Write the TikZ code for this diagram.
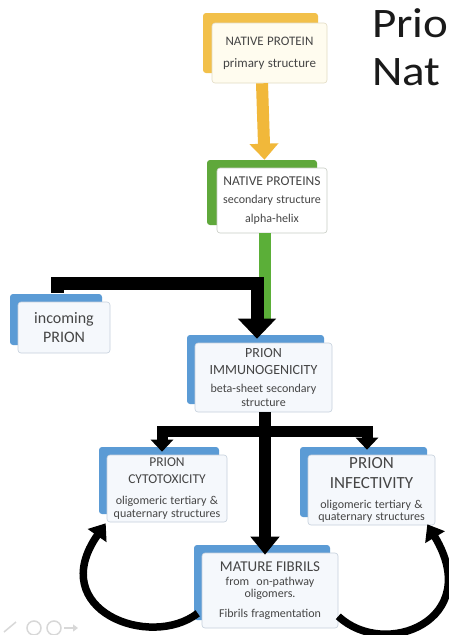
\documentclass[tikz,border=0pt]{standalone}
\usepackage{fontspec}
\usepackage{graphicx}
\setmainfont{Carlito}
\usetikzlibrary{arrows.meta,shadows}
\definecolor{yback}{HTML}{F2C04A}
\definecolor{ycream}{HTML}{FFFCEF}
\definecolor{ybord}{HTML}{E2DCC4}
\definecolor{gback}{HTML}{5FA83B}
\definecolor{gbord}{HTML}{C8CCC4}
\definecolor{bback}{HTML}{5B9BD5}
\definecolor{bfront}{HTML}{F5F8FC}
\definecolor{bbord}{HTML}{C5D0DC}
\definecolor{yarr}{HTML}{F1B83A}
\definecolor{gline}{HTML}{5BAF38}
\definecolor{txtc}{HTML}{454545}
\definecolor{ttl}{HTML}{1A1A1A}
\definecolor{faint}{HTML}{D8D8D8}
\tikzset{
  boxbase/.style={rounded corners=3pt, align=center, inner xsep=2pt, inner ysep=2pt,
    text=txtc, line width=0.6pt},
  ybox/.style={boxbase, draw=ybord, fill=ycream,
    copy shadow={shadow xshift=-9pt, shadow yshift=10pt, fill=yback, draw=none}},
  gbox/.style={boxbase, draw=gbord, fill=white,
    copy shadow={shadow xshift=-10pt, shadow yshift=8pt, fill=gback, draw=none}},
  bbox/.style={boxbase, draw=bbord, fill=bfront,
    copy shadow={shadow xshift=-8pt, shadow yshift=8pt, fill=bback, draw=none}},
  yarrow/.style={draw=yarr, line width=12pt, -{Triangle[width=28pt,length=16pt]}},
  gconn/.style={draw=gline, line width=12pt},
  bigblack/.style={draw=black, line width=13pt, -{Triangle[width=37pt,length=20pt]}},
  midblack/.style={draw=black, line width=12pt, -{Triangle[width=28pt,length=18pt]}},
  branch/.style={draw=black, line width=11pt,
    {Triangle[width=22pt,length=12pt]}-{Triangle[width=22pt,length=12pt]}},
  curvearrow/.style={draw=black, line width=7.5pt, -{Triangle[width=22pt,length=15pt]}},
  ttltext/.style={anchor=base west, text=ttl, font=\fontsize{42}{46}\selectfont, inner sep=0pt},
}
\begin{document}
\begin{tikzpicture}[x=1pt,y=-1pt]
\useasboundingbox (0,0) rectangle (448,635);
\fill[white] (0,0) rectangle (448,635);

% title (cut by the page edge)
\node[ttltext] (t1) at (372,37) {\scalebox{1.12}[1]{Prio}};
\node[ttltext] (t2) at (372,85) {\scalebox{1.12}[1]{Nat}};

% boxes
\node[ybox, minimum width=115pt, minimum height=60pt, text width=111pt] (np) at (269.5,53)
  {\fontsize{13}{22}\selectfont NATIVE PROTEIN\\primary structure\par};

\node[gbox, minimum width=110pt, minimum height=65pt, text width=106pt] (nps) at (272,200.5)
  {{\fontsize{13.5}{18.5}\selectfont NATIVE PROTEINS\par}
   {\fontsize{12}{18.5}\selectfont secondary structure\\alpha-helix\par}};

\node[bbox, minimum width=92pt, minimum height=51pt, text width=88pt] (inc) at (64,327.5)
  {\fontsize{16}{19}\selectfont incoming\\PRION\par};

\node[bbox, minimum width=137pt, minimum height=69pt, text width=133pt] (imm) at (263.5,377.5)
  {{\fontsize{14}{17}\selectfont PRION\\IMMUNOGENICITY\par}\vspace{4pt}
   {\fontsize{12}{14}\selectfont beta-sheet secondary\\structure\par}};

\node[bbox, minimum width=120pt, minimum height=67pt, text width=116pt] (cyt) at (167,488.5)
  {{\fontsize{13.5}{17}\selectfont PRION\\CYTOTOXICITY\par}\vspace{8pt}
   {\fontsize{12}{13}\selectfont oligomeric tertiary \&\\quaternary structures\par}};

\node[bbox, minimum width=127pt, minimum height=70pt, text width=123pt] (inf) at (371.5,490)
  {{\fontsize{17}{20}\selectfont PRION\\INFECTIVITY\par}\vspace{7pt}
   {\fontsize{12}{12.5}\selectfont oligomeric tertiary \&\\quaternary structures\par}};

\node[bbox, minimum width=136pt, minimum height=75pt, text width=132pt] (fib) at (270,590.5)
  {{\fontsize{15}{16}\selectfont MATURE FIBRILS\par}\vspace{1pt}
   {\fontsize{12}{12.5}\selectfont from\hspace{0.6em}on-pathway\\oligomers.\par}\vspace{7pt}
   {\fontsize{12}{12.5}\selectfont Fibrils fragmentation\par}};

% connectors
\draw[yarrow] ([xshift=-7.5pt]np.south) -- ([xshift=-7.5pt,yshift=8pt]nps.north);

\coordinate (gend) at (265,320);
\draw[gconn] ([xshift=-7pt]nps.south) -- (gend);

\coordinate (bk1) at (57,283);
\coordinate (bk2) at (257,283);
\draw[bigblack] ([xshift=-7pt,yshift=9pt]inc.north) -- (bk1) -- (bk2)
  -- ([xshift=-6.5pt,yshift=4pt]imm.north);

\coordinate (br) at (265,431);
\draw[midblack] ([xshift=1.5pt]imm.south) -- ([xshift=-5pt,yshift=-2pt]fib.north);
\draw[branch] ([xshift=-5pt,yshift=3pt]cyt.north) |- (br) -| ([xshift=-4.5pt,yshift=5pt]inf.north);

% recycling arrows
\draw[curvearrow] ([xshift=-4pt,yshift=15pt]fib.south west)
  .. controls (150,650) and (45,610) .. ([xshift=-1pt,yshift=-1pt]cyt.south west);
\draw[curvearrow] ([yshift=12pt]fib.south east)
  .. controls (385,660) and (485,620) .. ([xshift=-8pt,yshift=1pt]inf.south east);

% faint slide controls
\draw[faint, line width=1.5pt] (4,632) -- (16,622);
\draw[faint, line width=1.5pt] (34,628) circle (7);
\draw[faint, line width=1.5pt] (54,628) circle (7);
\draw[faint, line width=1.5pt, -{Triangle[width=7pt,length=5pt]}] (64,628) -- (78,628);
\end{tikzpicture}
\end{document}
